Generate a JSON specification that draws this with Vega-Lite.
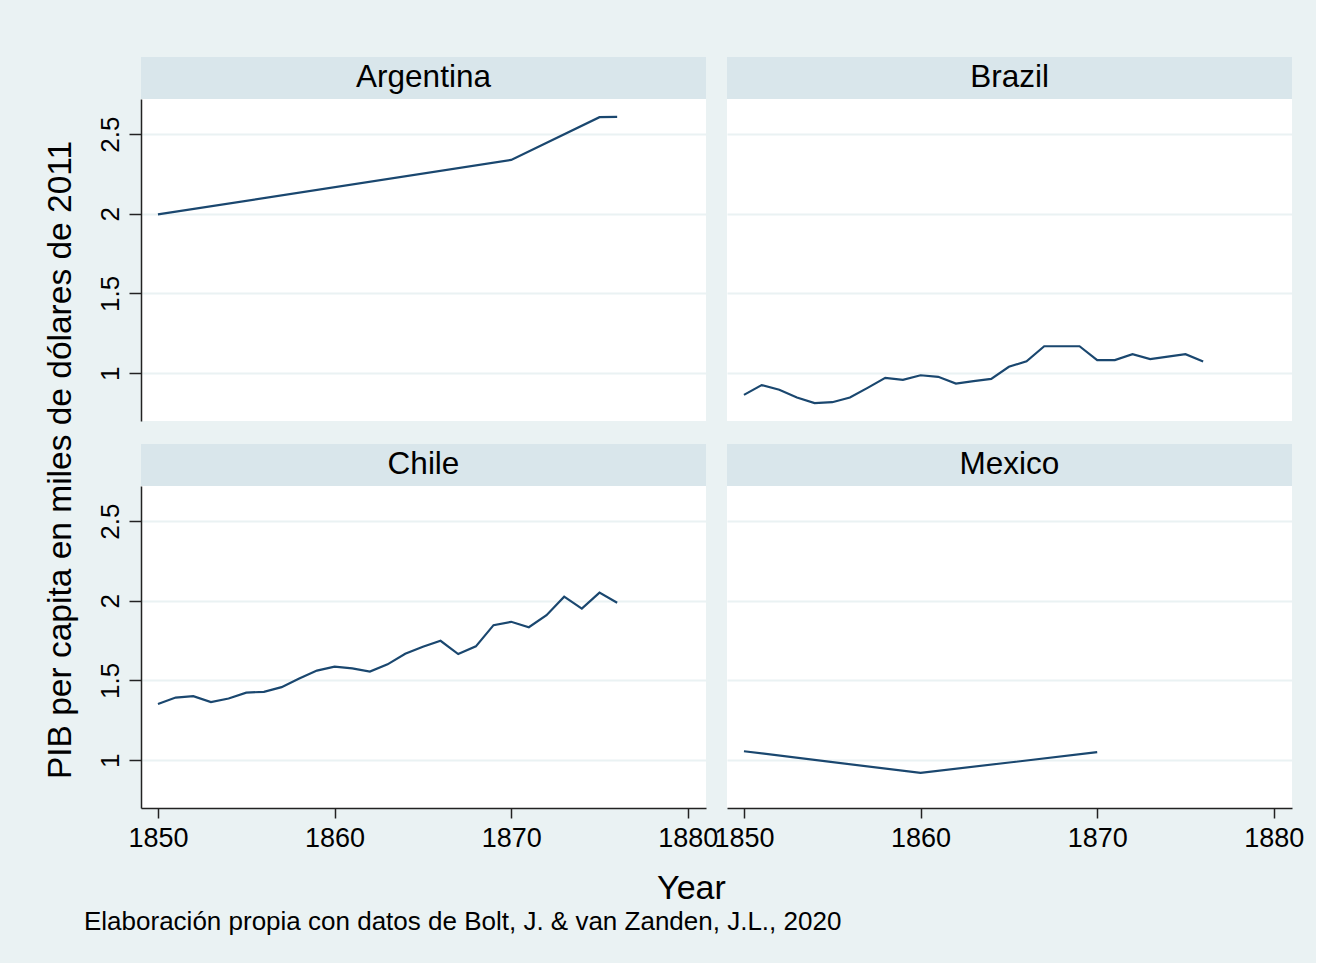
{
  "$schema": "https://vega.github.io/schema/vega-lite/v6.json",
  "padding": {"left": 43, "top": 57, "right": 12, "bottom": 28},
  "background": "#EAF2F3",
  "title": {"text": "Elaboración propia con datos de Bolt, J. & van Zanden, J.L., 2020", "orient": "bottom", "anchor": "start", "fontSize": 26, "fontWeight": "normal", "color": "#000000", "dx": 40, "offset": 3},
  "datasets": {
    "gdp": [
      {"country": "Argentina", "year": 1850, "gdp": 1.996},
      {"country": "Argentina", "year": 1870, "gdp": 2.338},
      {"country": "Argentina", "year": 1875, "gdp": 2.606},
      {"country": "Argentina", "year": 1876, "gdp": 2.608},
      {"country": "Brazil", "year": 1850, "gdp": 0.864},
      {"country": "Brazil", "year": 1851, "gdp": 0.925},
      {"country": "Brazil", "year": 1852, "gdp": 0.896},
      {"country": "Brazil", "year": 1853, "gdp": 0.847},
      {"country": "Brazil", "year": 1854, "gdp": 0.812},
      {"country": "Brazil", "year": 1855, "gdp": 0.818},
      {"country": "Brazil", "year": 1856, "gdp": 0.847},
      {"country": "Brazil", "year": 1857, "gdp": 0.908},
      {"country": "Brazil", "year": 1858, "gdp": 0.971},
      {"country": "Brazil", "year": 1859, "gdp": 0.958},
      {"country": "Brazil", "year": 1860, "gdp": 0.987},
      {"country": "Brazil", "year": 1861, "gdp": 0.977},
      {"country": "Brazil", "year": 1862, "gdp": 0.935},
      {"country": "Brazil", "year": 1863, "gdp": 0.950},
      {"country": "Brazil", "year": 1864, "gdp": 0.964},
      {"country": "Brazil", "year": 1865, "gdp": 1.040},
      {"country": "Brazil", "year": 1866, "gdp": 1.075},
      {"country": "Brazil", "year": 1867, "gdp": 1.169},
      {"country": "Brazil", "year": 1868, "gdp": 1.169},
      {"country": "Brazil", "year": 1869, "gdp": 1.169},
      {"country": "Brazil", "year": 1870, "gdp": 1.082},
      {"country": "Brazil", "year": 1871, "gdp": 1.082},
      {"country": "Brazil", "year": 1872, "gdp": 1.119},
      {"country": "Brazil", "year": 1873, "gdp": 1.088},
      {"country": "Brazil", "year": 1874, "gdp": 1.104},
      {"country": "Brazil", "year": 1875, "gdp": 1.119},
      {"country": "Brazil", "year": 1876, "gdp": 1.073},
      {"country": "Chile", "year": 1850, "gdp": 1.352},
      {"country": "Chile", "year": 1851, "gdp": 1.393},
      {"country": "Chile", "year": 1852, "gdp": 1.402},
      {"country": "Chile", "year": 1853, "gdp": 1.364},
      {"country": "Chile", "year": 1854, "gdp": 1.387},
      {"country": "Chile", "year": 1855, "gdp": 1.424},
      {"country": "Chile", "year": 1856, "gdp": 1.429},
      {"country": "Chile", "year": 1857, "gdp": 1.458},
      {"country": "Chile", "year": 1858, "gdp": 1.512},
      {"country": "Chile", "year": 1859, "gdp": 1.562},
      {"country": "Chile", "year": 1860, "gdp": 1.587},
      {"country": "Chile", "year": 1861, "gdp": 1.576},
      {"country": "Chile", "year": 1862, "gdp": 1.556},
      {"country": "Chile", "year": 1863, "gdp": 1.601},
      {"country": "Chile", "year": 1864, "gdp": 1.668},
      {"country": "Chile", "year": 1865, "gdp": 1.712},
      {"country": "Chile", "year": 1866, "gdp": 1.749},
      {"country": "Chile", "year": 1867, "gdp": 1.666},
      {"country": "Chile", "year": 1868, "gdp": 1.714},
      {"country": "Chile", "year": 1869, "gdp": 1.847},
      {"country": "Chile", "year": 1870, "gdp": 1.868},
      {"country": "Chile", "year": 1871, "gdp": 1.834},
      {"country": "Chile", "year": 1872, "gdp": 1.909},
      {"country": "Chile", "year": 1873, "gdp": 2.026},
      {"country": "Chile", "year": 1874, "gdp": 1.951},
      {"country": "Chile", "year": 1875, "gdp": 2.051},
      {"country": "Chile", "year": 1876, "gdp": 1.988},
      {"country": "Mexico", "year": 1850, "gdp": 1.056},
      {"country": "Mexico", "year": 1860, "gdp": 0.920},
      {"country": "Mexico", "year": 1870, "gdp": 1.050}
    ]
  },
  "spacing": 18,
  "hconcat": [
    {
      "width": 30,
      "height": 806,
      "data": {"values": [{"label": "PIB per capita en miles de dólares de 2011"}]},
      "mark": {"type": "text", "angle": 270, "fontSize": 33.5, "color": "#000000", "align": "center", "baseline": "middle"},
      "encoding": {"text": {"field": "label"}},
      "view": {"fill": null, "stroke": null}
    },
    {
      "title": {"text": "Year", "orient": "bottom", "anchor": "middle", "fontSize": 34, "fontWeight": "normal", "color": "#000000", "offset": 21, "dx": -9},
      "columns": 2,
      "spacing": {"row": 23, "column": -5},
      "concat": [
        {
          "bounds": "flush",
          "spacing": 0,
          "vconcat": [
            {
              "width": 565, "height": 42,
              "data": {"values": [{"country": "Argentina"}]},
              "mark": {"type": "text", "fontSize": 31.5, "color": "#000000"},
              "encoding": {"text": {"field": "country"}},
              "view": {"fill": "#D9E6EB", "stroke": null}
            },
            {
              "width": 565, "height": 322,
              "data": {"name": "gdp"},
              "transform": [{"filter": "datum.country === 'Argentina'"}],
              "mark": {"type": "line", "color": "#1A476F", "strokeWidth": 2.2},
              "encoding": {
                "x": {"field": "year", "type": "quantitative", "scale": {"domain": [1849.04, 1881.03], "nice": false, "zero": false}, "axis": null},
                "y": {"field": "gdp", "type": "quantitative", "scale": {"domain": [0.7, 2.72], "nice": false, "zero": false},
                  "axis": {"values": [1, 1.5, 2, 2.5], "format": "~g", "title": null, "labelAngle": 270, "labelAlign": "center", "labelBaseline": "bottom", "labelFontSize": 26, "labelColor": "#000000", "labelPadding": 6, "tickSize": 12, "tickColor": "#222222", "tickWidth": 1.5, "domainColor": "#222222", "domainWidth": 1.5, "grid": true, "gridColor": "#EAF2F3", "gridWidth": 2}}
              },
              "view": {"fill": "#FFFFFF", "stroke": null}
            }
          ]
        },
        {
          "bounds": "flush",
          "spacing": 0,
          "vconcat": [
            {
              "width": 565, "height": 42,
              "data": {"values": [{"country": "Brazil"}]},
              "mark": {"type": "text", "fontSize": 31.5, "color": "#000000"},
              "encoding": {"text": {"field": "country"}},
              "view": {"fill": "#D9E6EB", "stroke": null}
            },
            {
              "width": 565, "height": 322,
              "data": {"name": "gdp"},
              "transform": [{"filter": "datum.country === 'Brazil'"}],
              "mark": {"type": "line", "color": "#1A476F", "strokeWidth": 2.2},
              "encoding": {
                "x": {"field": "year", "type": "quantitative", "scale": {"domain": [1849.04, 1881.03], "nice": false, "zero": false}, "axis": null},
                "y": {"field": "gdp", "type": "quantitative", "scale": {"domain": [0.7, 2.72], "nice": false, "zero": false},
                  "axis": {"values": [1, 1.5, 2, 2.5], "title": null, "labels": false, "ticks": false, "domain": false, "grid": true, "gridColor": "#EAF2F3", "gridWidth": 2}}
              },
              "view": {"fill": "#FFFFFF", "stroke": null}
            }
          ]
        },
        {
          "bounds": "flush",
          "spacing": 0,
          "vconcat": [
            {
              "width": 565, "height": 42,
              "data": {"values": [{"country": "Chile"}]},
              "mark": {"type": "text", "fontSize": 31.5, "color": "#000000"},
              "encoding": {"text": {"field": "country"}},
              "view": {"fill": "#D9E6EB", "stroke": null}
            },
            {
              "width": 565, "height": 322,
              "data": {"name": "gdp"},
              "transform": [{"filter": "datum.country === 'Chile'"}],
              "mark": {"type": "line", "color": "#1A476F", "strokeWidth": 2.2},
              "encoding": {
                "x": {"field": "year", "type": "quantitative", "scale": {"domain": [1849.04, 1881.03], "nice": false, "zero": false},
                  "axis": {"values": [1850, 1860, 1870, 1880], "format": "d", "title": null, "grid": false, "labelFontSize": 27, "labelColor": "#000000", "labelFlush": false, "labelOverlap": false, "labelPadding": 7, "tickSize": 10, "tickColor": "#222222", "tickWidth": 1.5, "domainColor": "#222222", "domainWidth": 1.5}},
                "y": {"field": "gdp", "type": "quantitative", "scale": {"domain": [0.7, 2.72], "nice": false, "zero": false},
                  "axis": {"values": [1, 1.5, 2, 2.5], "format": "~g", "title": null, "labelAngle": 270, "labelAlign": "center", "labelBaseline": "bottom", "labelFontSize": 26, "labelColor": "#000000", "labelPadding": 6, "tickSize": 12, "tickColor": "#222222", "tickWidth": 1.5, "domainColor": "#222222", "domainWidth": 1.5, "grid": true, "gridColor": "#EAF2F3", "gridWidth": 2}}
              },
              "view": {"fill": "#FFFFFF", "stroke": null}
            }
          ]
        },
        {
          "bounds": "flush",
          "spacing": 0,
          "vconcat": [
            {
              "width": 565, "height": 42,
              "data": {"values": [{"country": "Mexico"}]},
              "mark": {"type": "text", "fontSize": 31.5, "color": "#000000"},
              "encoding": {"text": {"field": "country"}},
              "view": {"fill": "#D9E6EB", "stroke": null}
            },
            {
              "width": 565, "height": 322,
              "data": {"name": "gdp"},
              "transform": [{"filter": "datum.country === 'Mexico'"}],
              "mark": {"type": "line", "color": "#1A476F", "strokeWidth": 2.2},
              "encoding": {
                "x": {"field": "year", "type": "quantitative", "scale": {"domain": [1849.04, 1881.03], "nice": false, "zero": false},
                  "axis": {"values": [1850, 1860, 1870, 1880], "format": "d", "title": null, "grid": false, "labelFontSize": 27, "labelColor": "#000000", "labelFlush": false, "labelOverlap": false, "labelPadding": 7, "tickSize": 10, "tickColor": "#222222", "tickWidth": 1.5, "domainColor": "#222222", "domainWidth": 1.5}},
                "y": {"field": "gdp", "type": "quantitative", "scale": {"domain": [0.7, 2.72], "nice": false, "zero": false},
                  "axis": {"values": [1, 1.5, 2, 2.5], "title": null, "labels": false, "ticks": false, "domain": false, "grid": true, "gridColor": "#EAF2F3", "gridWidth": 2}}
              },
              "view": {"fill": "#FFFFFF", "stroke": null}
            }
          ]
        }
      ]
    }
  ],
  "config": {
    "font": "Liberation Sans",
    "view": {"stroke": null}
  }
}
